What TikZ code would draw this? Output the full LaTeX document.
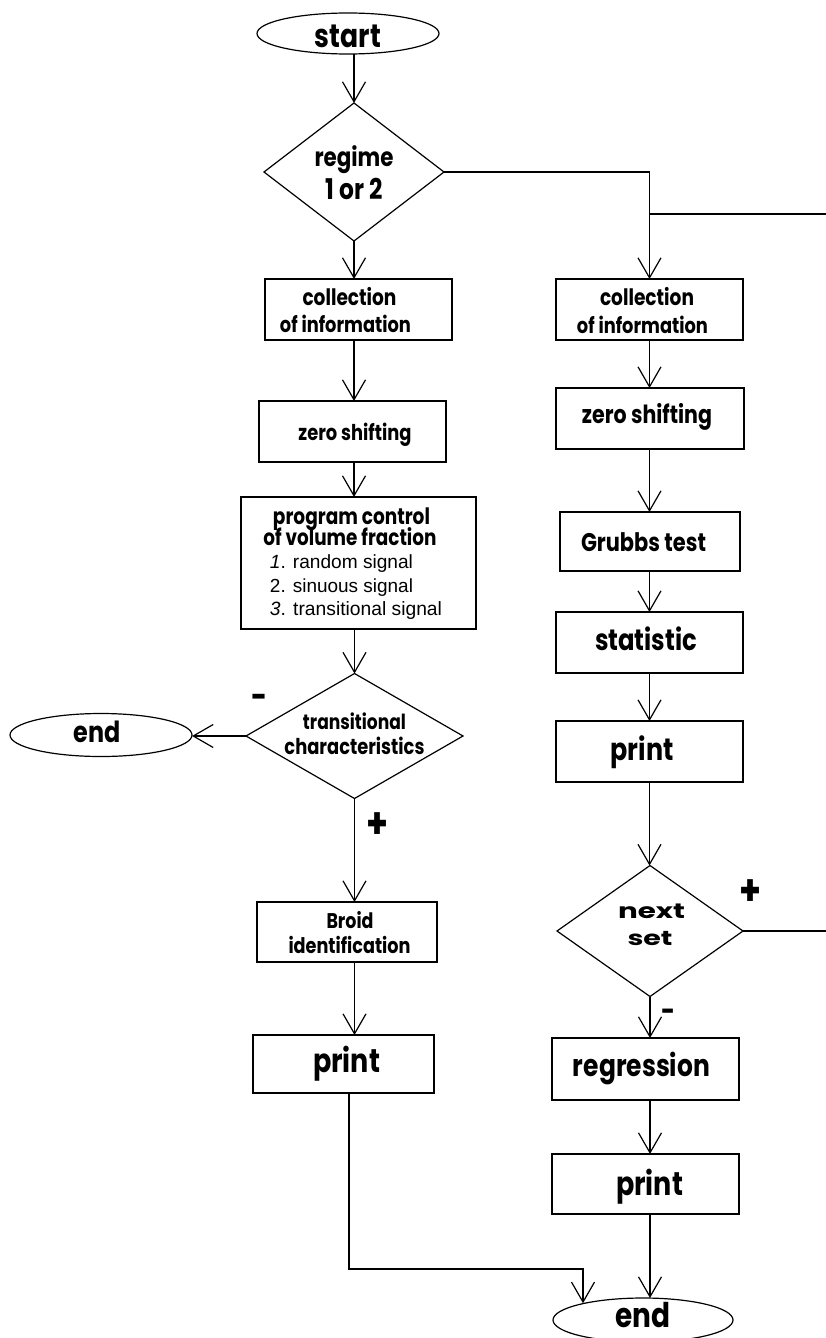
\documentclass[tikz,border=0pt]{standalone}
\usepackage{fontspec}
\usepackage{graphicx}
\usetikzlibrary{shapes.geometric,arrows.meta}
\newfontfamily\pop[FakeStretch=0.82]{Poppins}
\newfontfamily\popwide[FakeStretch=1.4]{Poppins}
\newfontfamily\hel{Liberation Sans}
\newlength\tlw
% \tl[dx]{dy}{width}{text}: one text line, width fixed, x-height centre at (dx,dy) from node centre
\newcommand\tl[4][0pt]{%
  \settowidth\tlw{#4}%
  \makebox[0pt]{\hspace*{#1}\hspace*{#1}\raisebox{\dimexpr #2 - \fontdimen5\font*\number\dimexpr #3\relax/\number\tlw/2\relax}[0pt][0pt]{\resizebox{#3}{!}{#4}}}}
\tikzset{
  every node/.style={inner sep=0pt, outer sep=0pt},
  boxnode/.style={draw, rectangle},
  ovalnode/.style={draw, ellipse},
  decnode/.style={draw, diamond},
  arr/.style={-{Straight Barb[length=20pt,width=23pt]}},
}
\begin{document}
\begin{tikzpicture}[x=1pt,y=-1pt,line width=1.2pt,font=\pop\bfseries]
\fill[white] (0,0) rectangle (826,1338);
\useasboundingbox (0,0) rectangle (826,1338);
% left column
\node[ovalnode, minimum width=182, minimum height=41] (start) at (348,33.5) {\tl{-5pt}{66pt}{start}};
\node[decnode, minimum width=180, minimum height=138] (regime) at (354,172) {\tl{12.5pt}{79pt}{regime}\tl{-20pt}{57pt}{1 or 2}};
\node[boxnode, minimum width=187, minimum height=61] (lcoll) at (358.5,309.5) {\tl[-9pt]{10.5pt}{94pt}{collection}\tl[-13pt]{-16.5pt}{131pt}{of information}};
\node[boxnode, minimum width=187, minimum height=61] (lzero) at (352.5,431.5) {\tl[2.5pt]{-2.5pt}{113pt}{zero shifting}};
\node[boxnode, minimum width=235, minimum height=132] (prog) at (358.5,563) {\tl[-7pt]{44.5pt}{157pt}{program control}\tl[-8.5pt]{24pt}{173pt}{of volume fraction}\tl[-17pt]{0pt}{143pt}{\hel\mdseries\textit{1}. random signal}\tl[-17pt]{-24pt}{143pt}{\hel\mdseries 2. sinuous signal}\tl[-2.5pt]{-47pt}{172pt}{\hel\mdseries\textit{3}. transitional signal}};
\node[decnode, minimum width=217, minimum height=125] (trans) at (354.5,736) {\tl{12pt}{103pt}{transitional}\tl{-12.5pt}{140pt}{characteristics}};
\node[ovalnode, minimum width=182, minimum height=43] (lend) at (101,735) {\tl[-4pt]{1pt}{47pt}{end}};
\node (minus1) at (259,699) {\tl{0pt}{16pt}{-}};
\node (plus1) at (377.5,827) {\tl{0pt}{22pt}{+}};
\node[boxnode, minimum width=180, minimum height=60] (broid) at (347,932) {\tl[3pt]{9.5pt}{47pt}{Broid}\tl[2.5pt]{-15pt}{122pt}{identification}};
\node[boxnode, minimum width=181, minimum height=58] (lprint) at (343.5,1064) {\tl[3pt]{0.5pt}{67pt}{print}};
% right column
\node[boxnode, minimum width=187, minimum height=61] (rcoll) at (649.5,309.5) {\tl[-2.5pt]{10.5pt}{94pt}{collection}\tl[-7pt]{-17.5pt}{131pt}{of information}};
\node[boxnode, minimum width=188, minimum height=61] (rzero) at (650,418.5) {\tl[-3pt]{2pt}{130pt}{zero shifting}};
\node[boxnode, minimum width=180, minimum height=59] (grubbs) at (650,541.5) {\tl[-6.5pt]{-3pt}{125pt}{Grubbs test}};
\node[boxnode, minimum width=187, minimum height=61] (stat) at (649.5,642.5) {\tl[-3.5pt]{0pt}{102pt}{statistic}};
\node[boxnode, minimum width=187, minimum height=61] (rprint) at (649.5,751.5) {\tl[-7.5pt]{0pt}{63pt}{print}};
\node[decnode, minimum width=186, minimum height=131] (nextset) at (650,931) {\tl[1.5pt]{18pt}{67pt}{\popwide\bfseries next}\tl{-8.5pt}{45pt}{\popwide\bfseries set}};
\node (plus2) at (750.8,894) {\tl{0pt}{22pt}{+}};
\node (minus2) at (668,1013) {\tl{0pt}{14pt}{-}};
\node[boxnode, minimum width=187, minimum height=62] (regr) at (645.5,1069) {\tl[-4pt]{1.5pt}{137pt}{regression}};
\node[boxnode, minimum width=187, minimum height=60] (print3) at (645.5,1184) {\tl[4pt]{-2.5pt}{67pt}{print}};
\node[ovalnode, minimum width=180, minimum height=44] (bend) at (643,1320) {\tl{2.5pt}{55pt}{end}};
% helper coordinates
\coordinate (lb1) at (349,1269);
\coordinate (lb2) at (583,1269);
\coordinate (loopR) at (826,214);
\coordinate (nsR) at (826,931);
% connectors left
\draw[arr] (regime.north |- start.south) -- (regime.north);
\draw[arr] (regime.south) -- (regime.south |- lcoll.north);
\draw[arr] (regime.south |- lcoll.south) -- (regime.south |- lzero.north);
\draw[arr] (regime.south |- lzero.south) -- (regime.south |- prog.north);
\draw[arr] (trans.north |- prog.south) -- (trans.north);
\draw[arr] (trans.west) -- (trans.west -| lend.east);
\draw[arr] (trans.south) -- (trans.south |- broid.north);
\draw[arr] (trans.south |- broid.south) -- (trans.south |- lprint.north);
\draw[arr] (lb1 |- lprint.south) -- (lb1) -- (lb2) -- (lb2 |- bend.164);
% connectors right
\draw[arr] (regime.east) -| (rcoll.north);
\draw (loopR) -- (loopR -| rcoll.north);
\draw[arr] (rcoll.south) -- (rcoll.south |- rzero.north);
\draw[arr] (rcoll.south |- rzero.south) -- (rcoll.south |- grubbs.north);
\draw[arr] (rcoll.south |- grubbs.south) -- (rcoll.south |- stat.north);
\draw[arr] (rcoll.south |- stat.south) -- (rcoll.south |- rprint.north);
\draw[arr] (rcoll.south |- rprint.south) -- (rcoll.south |- nextset.north);
\draw (nextset.east) -- (nsR);
\draw[arr] (nextset.south) -- (nextset.south |- regr.north);
\draw[arr] (nextset.south |- regr.south) -- (nextset.south |- print3.north);
\draw[arr] (nextset.south |- print3.south) -- (nextset.south |- bend.north);
\end{tikzpicture}
\end{document}
